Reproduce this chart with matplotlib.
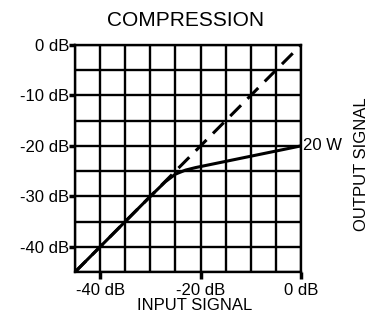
import matplotlib
matplotlib.use('Agg')
import matplotlib.pyplot as plt

# data
input_db = [-45, -30, -27, -25, -23, -21, 0]
output_db = [-45, -30, -27.1, -25.6, -24.8, -24.3, -20]
ref_in = [-45, 0]
ref_out = [-45, 0]
y_ticks = [0, -10, -20, -30, -40]
y_labels = ['0 dB', '-10 dB', '-20 dB', '-30 dB', '-40 dB']
x_ticks = [-40, -20, 0]
x_labels = ['-40 dB', '-20 dB', '0 dB']
grid_steps = [-45, -40, -35, -30, -25, -20, -15, -10, -5, 0]

plt.rcParams['font.family'] = 'Liberation Sans'

fig = plt.figure(figsize=(3.68, 3.13), dpi=100)
ax = fig.add_axes([75 / 368, 1 - 272 / 313, 226 / 368, 227 / 313])

for g in grid_steps:
    ax.axvline(g, color='black', lw=1.7, zorder=1)
    ax.axhline(g, color='black', lw=1.7, zorder=1)

ax.plot(ref_in, ref_out, color='black', lw=2.2, dashes=(5, 3), zorder=2)
ax.plot(input_db, output_db, color='black', lw=2.2, zorder=3)

ax.set_xlim(-45, 0)
ax.set_ylim(-45, 0)
for s in ax.spines.values():
    s.set_linewidth(1.7)
ax.set_yticks(y_ticks)
ax.set_yticklabels(y_labels, fontsize=12)
ax.set_xticks(x_ticks)
ax.set_xticklabels(x_labels, fontsize=12)
ax.tick_params(axis='y', length=4, width=2.5, pad=0)
ax.tick_params(axis='x', length=5, width=2.5, pad=3)

ax.text(0.4, -20, '20 W', fontsize=12, va='center', ha='left')
fig.text(186 / 368, 1 - 20 / 313, 'COMPRESSION', fontsize=15, ha='center', va='center')
fig.text(195 / 368, 1 - 306 / 313, 'INPUT SIGNAL', fontsize=12, ha='center', va='center')
fig.text(361 / 368, 1 - 164 / 313, 'OUTPUT SIGNAL', fontsize=12, ha='center', va='center', rotation=90)

fig.savefig('out.png', dpi=100)
